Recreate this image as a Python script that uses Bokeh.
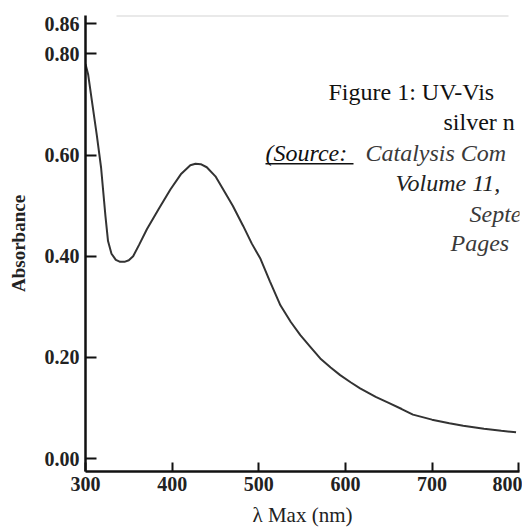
from bokeh.plotting import figure
from bokeh.models import Range1d, FixedTicker, Label, BoxAnnotation
from bokeh.embed import file_html
from bokeh.resources import INLINE

# Data (wavelength nm, absorbance)
wavelength = [300, 303, 308, 313, 318, 323, 326, 330, 335, 340, 345, 350, 355, 362, 371,
              385, 398, 410, 421, 427, 433, 440, 450, 459, 470, 482, 492, 502, 513, 525,
              537, 548, 560, 571, 583, 594, 606, 617, 635, 650, 665, 678, 700, 720, 736,
              760, 780, 797]
absorbance = [0.78, 0.76, 0.70, 0.64, 0.575, 0.48, 0.43, 0.405, 0.393, 0.389, 0.389, 0.392, 0.40, 0.423, 0.454,
              0.495, 0.532, 0.562, 0.58, 0.583, 0.582, 0.576, 0.558, 0.532, 0.50, 0.46, 0.425, 0.395, 0.35, 0.303,
              0.27, 0.244, 0.22, 0.198, 0.18, 0.165, 0.151, 0.139, 0.122, 0.11, 0.098, 0.087, 0.077, 0.07, 0.065,
              0.059, 0.055, 0.052]

x_ticks = [300, 400, 500, 600, 700, 800]
y_ticks = [0.0, 0.2, 0.4, 0.6, 0.8, 0.86]
y_tick_labels = ["0.00", "0.20", "0.40", "0.60", "0.80", "0.86"]

caption_lines = [
    ("Figure 1: UV-Vis", "normal", "#111111"),
    ("silver n", "normal", "#111111"),
    ("(Source:", "italic", "#111111"),
    ("Catalysis Com", "italic", "#3a3a3a"),
    ("Volume 11,", "italic", "#222222"),
    ("Septe", "italic", "#3a3a3a"),
    ("Pages", "italic", "#3a3a3a"),
]

p = figure(width=522, height=529, output_backend="svg", toolbar_location=None,
           x_range=Range1d(300, 801), y_range=Range1d(-0.0255, 0.876),
           min_border_left=85, min_border_right=3, min_border_top=15, min_border_bottom=55)
p.outline_line_color = None
p.grid.visible = False
p.background_fill_color = "white"
p.border_fill_color = "white"

p.line(wavelength, absorbance, line_color="#333333", line_width=2)

for ax in (p.xaxis[0], p.yaxis[0]):
    ax.axis_line_color = "#111111"
    ax.axis_line_width = 2.5
    ax.major_tick_line_color = "#111111"
    ax.major_tick_line_width = 2
    ax.major_tick_out = 0
    ax.minor_tick_line_color = None
    ax.major_label_text_font = "Liberation Serif"
    ax.major_label_text_font_style = "bold"
    ax.major_label_text_font_size = "20px"
    ax.major_label_text_color = "#222222"

p.xaxis.ticker = FixedTicker(ticks=x_ticks)
p.xaxis.major_tick_in = 9
p.xaxis.major_label_standoff = 5
p.xaxis.axis_label = "λ Max (nm)"
p.xaxis.axis_label_text_font = "Liberation Serif"
p.xaxis.axis_label_text_font_style = "normal"
p.xaxis.axis_label_text_font_size = "21px"
p.xaxis.axis_label_text_color = "#222222"
p.xaxis.axis_label_standoff = 9

p.yaxis.ticker = FixedTicker(ticks=y_ticks)
p.yaxis.major_label_overrides = {t: s for t, s in zip(y_ticks, y_tick_labels)}
p.yaxis.major_tick_in = 11
p.yaxis.major_label_standoff = 6
p.yaxis.axis_label = "Absorbance"
p.yaxis.axis_label_text_font = "Liberation Serif"
p.yaxis.axis_label_text_font_style = "bold"
p.yaxis.axis_label_text_font_size = "19px"
p.yaxis.axis_label_text_color = "#222222"
p.yaxis.axis_label_standoff = 13

# faint separator line at top (screen units relative to frame bottom-left)
p.add_layout(BoxAnnotation(left=31, right=423, bottom=455, top=457.5,
                           left_units="screen", right_units="screen",
                           bottom_units="screen", top_units="screen",
                           fill_color="#d4d4d4", fill_alpha=1, line_color=None))

# caption overlay
positions = [(243, 380), (358, 350), (180, 319), (280, 319), (310, 289), (384, 258), (365, 229)]
for (txt, style, col), (lx, ly) in zip(caption_lines, positions):
    p.add_layout(Label(x=lx, y=ly, x_units="screen", y_units="screen", text=txt,
                       text_font="Liberation Serif", text_font_style=style,
                       text_font_size="24px", text_color=col, text_baseline="alphabetic"))

p.add_layout(BoxAnnotation(left=180, right=268, bottom=307, top=308.5,
                           left_units="screen", right_units="screen",
                           bottom_units="screen", top_units="screen",
                           fill_color="#111111", fill_alpha=1, line_color=None))

open("out.html", "w").write(file_html(p, INLINE))
